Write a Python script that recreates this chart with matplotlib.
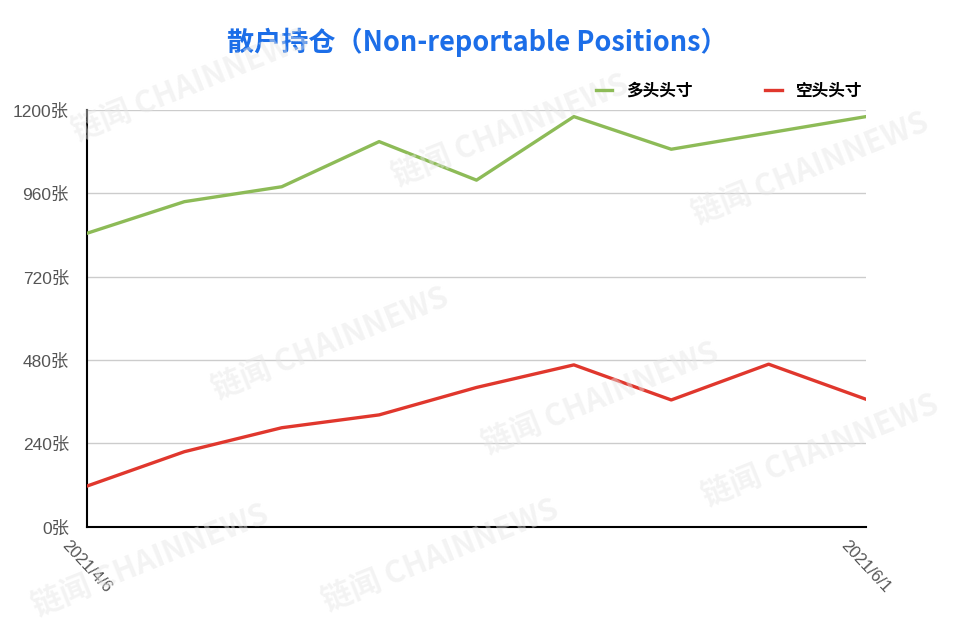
import matplotlib
matplotlib.use("Agg")
import matplotlib.pyplot as plt

# Data
dates = ["2021/4/6", "2021/4/13", "2021/4/20", "2021/4/27", "2021/5/4",
         "2021/5/11", "2021/5/18", "2021/5/25", "2021/6/1"]
long_pos = [845, 936, 979, 1109, 998, 1181, 1087, 1134, 1181]
short_pos = [117, 216, 285, 322, 401, 466, 365, 468, 367]
y_ticks = [0, 240, 480, 720, 960, 1200]
series_names = ["多头头寸", "空头头寸"]
title = "散户持仓（Non-reportable Positions）"

CJK = ["Noto Sans CJK SC", "DejaVu Sans"]
LAT_CJK = ["Liberation Sans", "Noto Sans CJK SC"]
GREEN = "#8dbb57"
RED = "#e0372d"

fig = plt.figure(figsize=(9.6, 6.32), dpi=100)
ax = fig.add_axes([87 / 960, 1 - 526.7 / 632, (866 - 87) / 960, (526.7 - 110) / 632])

x = list(range(len(dates)))
ax.plot(x, long_pos, color=GREEN, lw=2.4, label=series_names[0], zorder=3,
        solid_joinstyle="round")
ax.plot(x, short_pos, color=RED, lw=2.4, label=series_names[1], zorder=3,
        solid_joinstyle="round")

ax.set_xlim(0, len(dates) - 1)
ax.set_ylim(0, 1200)
ax.set_yticks(y_ticks)
ax.set_yticklabels([f"{v}张" for v in y_ticks], family=LAT_CJK, fontsize=12.5,
                   color="#555555")
ax.set_xticks([0, len(dates) - 1])
ax.set_xticklabels([dates[0], dates[-1]], family=LAT_CJK, fontsize=12,
                   color="#555555", rotation=-47, ha="center")
ax.tick_params(axis="both", length=0)
ax.tick_params(axis="y", pad=13)
ax.tick_params(axis="x", pad=8)

ax.grid(axis="y", color="#cccccc", lw=1)
ax.set_axisbelow(True)
for s in ["top", "right"]:
    ax.spines[s].set_visible(False)
for s in ["left", "bottom"]:
    ax.spines[s].set_color("black")
    ax.spines[s].set_linewidth(1.5)

fig.text(477 / 960, 1 - 42 / 632, title, family=CJK, fontsize=19.5,
         fontweight="bold", color="#1c6ee8", ha="center", va="center")

fig.legend(loc="center right", bbox_to_anchor=(877 / 960, 1 - 91 / 632), ncol=2,
           frameon=False, handlelength=1.0, handletextpad=0.8, columnspacing=4.4,
           prop={"family": CJK, "size": 12, "weight": "bold"})

# faint watermark
wm = "链闻 CHAINNEWS"
wm_pos = [(190, 85), (330, 343), (510, 130), (600, 398), (810, 168),
          (820, 450), (150, 560), (440, 555)]
for px, py in wm_pos:
    fig.text(px / 960, 1 - py / 632, wm, family=CJK, fontsize=22, fontweight="bold",
             color="#e6e6e6", alpha=0.45, rotation=22, ha="center", va="center",
             zorder=5)

fig.savefig("out.png", dpi=100)
